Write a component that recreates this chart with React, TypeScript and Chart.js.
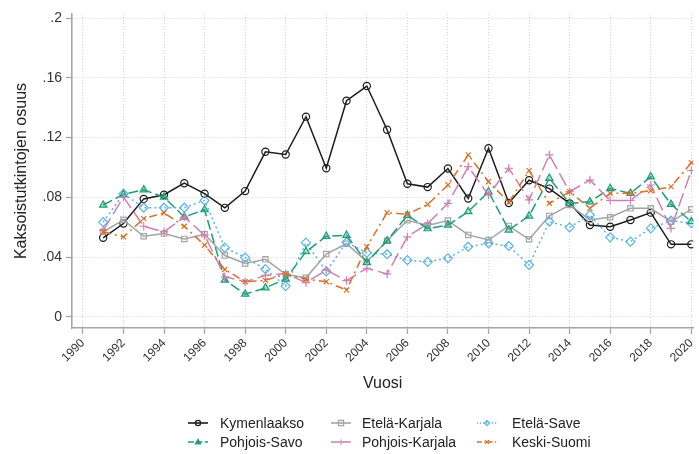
import React, { useEffect, useRef } from 'react';
import { Chart, registerables } from 'chart.js';

Chart.register(...registerables);

const years = [1991, 1992, 1993, 1994, 1995, 1996, 1997, 1998, 1999, 2000, 2001, 2002, 2003, 2004, 2005, 2006, 2007, 2008, 2009, 2010, 2011, 2012, 2013, 2014, 2015, 2016, 2017, 2018, 2019, 2020];

const kymenlaakso = [0.053, 0.0625, 0.079, 0.0818, 0.0895, 0.0825, 0.073, 0.0842, 0.1105, 0.1087, 0.134, 0.0995, 0.1447, 0.1545, 0.1253, 0.0891, 0.0869, 0.0993, 0.0793, 0.1129, 0.0763, 0.0915, 0.0859, 0.076, 0.0615, 0.0604, 0.0649, 0.0698, 0.0486, 0.0486];
const etelaKarjala = [0.057, 0.065, 0.054, 0.0558, 0.0522, 0.0553, 0.0411, 0.0358, 0.0386, 0.0285, 0.0262, 0.0421, 0.049, 0.037, 0.051, 0.0647, 0.0613, 0.0645, 0.0549, 0.0515, 0.0609, 0.052, 0.0676, 0.0749, 0.065, 0.0667, 0.0727, 0.0727, 0.0638, 0.072];
const etelaSave = [0.0635, 0.0824, 0.0731, 0.0731, 0.0731, 0.078, 0.0464, 0.0398, 0.032, 0.0207, 0.0497, 0.0305, 0.05, 0.043, 0.042, 0.038, 0.0369, 0.0393, 0.047, 0.0493, 0.0475, 0.0348, 0.0638, 0.06, 0.0682, 0.0533, 0.0504, 0.0593, 0.0644, 0.0627];
const pohjoisSavo = [0.0749, 0.082, 0.0851, 0.0802, 0.0669, 0.0718, 0.0247, 0.0153, 0.0195, 0.0254, 0.0437, 0.054, 0.0547, 0.0365, 0.051, 0.068, 0.0591, 0.0615, 0.0705, 0.0838, 0.0582, 0.0676, 0.0928, 0.076, 0.0771, 0.086, 0.0827, 0.0938, 0.0754, 0.0638];
const pohjoisKarjala = [0.058, 0.0802, 0.0607, 0.0569, 0.0669, 0.0547, 0.0269, 0.0236, 0.0278, 0.0291, 0.023, 0.0314, 0.0243, 0.0326, 0.0288, 0.0536, 0.0625, 0.076, 0.1006, 0.0816, 0.0995, 0.0783, 0.1084, 0.0838, 0.0916, 0.078, 0.078, 0.0883, 0.0593, 0.098];
const keskiSuomi = [0.057, 0.0536, 0.0658, 0.0696, 0.0607, 0.048, 0.0318, 0.0236, 0.0245, 0.0288, 0.0252, 0.0236, 0.018, 0.047, 0.0698, 0.0687, 0.0753, 0.0883, 0.1084, 0.0905, 0.0767, 0.0979, 0.076, 0.0838, 0.0727, 0.0827, 0.0827, 0.0845, 0.0872, 0.1032];

const xTickValues = [1990, 1992, 1994, 1996, 1998, 2000, 2002, 2004, 2006, 2008, 2010, 2012, 2014, 2016, 2018, 2020];
const yTickValues = [0, 0.04, 0.08, 0.12, 0.16, 0.2];
const yTickLabels = ['0', '.04', '.08', '.12', '.16', '.2'];

const FONT = '"Liberation Sans", Arial, sans-serif';

type Series = {
  label: string;
  values: number[];
  color: string;
  fill: string;
  dash: number[];
  pointStyle: string;
  radius: number;
  order: number;
};

const series: Series[] = [
  { label: 'Kymenlaakso', values: kymenlaakso, color: '#1c1c1c', fill: 'rgba(255,255,255,0)', dash: [], pointStyle: 'circle', radius: 3.6, order: 6 },
  { label: 'Etelä-Karjala', values: etelaKarjala, color: '#a4a4a4', fill: 'rgba(255,255,255,0)', dash: [], pointStyle: 'rect', radius: 3.8, order: 5 },
  { label: 'Etelä-Save', values: etelaSave, color: '#5ab4e6', fill: 'rgba(255,255,255,0)', dash: [2, 3], pointStyle: 'rectRot', radius: 4.5, order: 4 },
  { label: 'Pohjois-Savo', values: pohjoisSavo, color: '#1e9e78', fill: 'rgba(30,158,120,0.35)', dash: [10, 4], pointStyle: 'triangle', radius: 4.2, order: 3 },
  { label: 'Pohjois-Karjala', values: pohjoisKarjala, color: '#d07fb4', fill: 'rgba(255,255,255,0)', dash: [14, 5], pointStyle: 'cross', radius: 4.2, order: 2 },
  { label: 'Keski-Suomi', values: keskiSuomi, color: '#da6f25', fill: 'rgba(255,255,255,0)', dash: [8, 4, 2, 4], pointStyle: 'crossRot', radius: 3.6, order: 1 },
];

const legendCols = [
  { sx: 188, tx: 220 },
  { sx: 331, tx: 362 },
  { sx: 477, tx: 512 },
];
const legendRows = [423, 442];

function drawMarker(ctx: CanvasRenderingContext2D, style: string, x: number, y: number, r: number, color: string, fill: string) {
  ctx.save();
  ctx.setLineDash([]);
  ctx.strokeStyle = color;
  ctx.fillStyle = fill;
  ctx.lineWidth = 1.2;
  ctx.beginPath();
  if (style === 'circle') {
    ctx.arc(x, y, r, 0, Math.PI * 2);
    ctx.fill();
    ctx.stroke();
  } else if (style === 'rect') {
    ctx.rect(x - r, y - r, 2 * r, 2 * r);
    ctx.fill();
    ctx.stroke();
  } else if (style === 'rectRot') {
    ctx.moveTo(x, y - r);
    ctx.lineTo(x + r, y);
    ctx.lineTo(x, y + r);
    ctx.lineTo(x - r, y);
    ctx.closePath();
    ctx.fill();
    ctx.stroke();
  } else if (style === 'triangle') {
    ctx.moveTo(x, y - r);
    ctx.lineTo(x + r, y + r * 0.7);
    ctx.lineTo(x - r, y + r * 0.7);
    ctx.closePath();
    ctx.fillStyle = color;
    ctx.fill();
    ctx.stroke();
  } else if (style === 'cross') {
    ctx.moveTo(x - r, y);
    ctx.lineTo(x + r, y);
    ctx.moveTo(x, y - r);
    ctx.lineTo(x, y + r);
    ctx.stroke();
  } else if (style === 'crossRot') {
    const d = r * 0.75;
    ctx.moveTo(x - d, y - d);
    ctx.lineTo(x + d, y + d);
    ctx.moveTo(x + d, y - d);
    ctx.lineTo(x - d, y + d);
    ctx.stroke();
  }
  ctx.restore();
}

const legendPlugin = {
  id: 'gridLegend',
  afterDraw(chart: any) {
    const ctx: CanvasRenderingContext2D = chart.ctx;
    ctx.save();
    series.forEach((s, i) => {
      const row = Math.floor(i / 3);
      const col = i % 3;
      const y = legendRows[row];
      const { sx, tx } = legendCols[col];
      ctx.strokeStyle = s.color;
      ctx.lineWidth = 1.6;
      ctx.setLineDash(s.dash.length ? s.dash.map((d) => Math.max(1, d * 0.6)) : []);
      ctx.beginPath();
      ctx.moveTo(sx, y);
      ctx.lineTo(sx + 20, y);
      ctx.stroke();
      drawMarker(ctx, s.pointStyle, sx + 10, y, 2.6, s.color, s.fill);
      ctx.setLineDash([]);
      ctx.fillStyle = '#222222';
      ctx.font = `14px ${FONT}`;
      ctx.textAlign = 'left';
      ctx.textBaseline = 'middle';
      ctx.fillText(s.label, tx, y + 1);
    });
    ctx.restore();
  },
};

export default function App() {
  const canvasRef = useRef<HTMLCanvasElement | null>(null);

  useEffect(() => {
    document.body.style.margin = '0';
    const canvas = canvasRef.current;
    if (!canvas) return;
    const chart = new Chart(canvas, {
      type: 'line',
      data: {
        datasets: series.map((s) => ({
          label: s.label,
          data: years.map((yr, i) => ({ x: yr, y: s.values[i] })),
          borderColor: s.color,
          backgroundColor: s.fill,
          borderWidth: 1.5,
          borderDash: s.dash,
          pointStyle: s.pointStyle as any,
          pointRadius: s.radius,
          pointBorderWidth: 1.2,
          pointBorderColor: s.color,
          pointBackgroundColor: s.fill,
          tension: 0,
          fill: false,
          order: s.order,
        })),
      },
      options: {
        animation: false,
        responsive: false,
        maintainAspectRatio: false,
        events: [],
        layout: { padding: { top: 14, right: 0, bottom: 61, left: 0 } },
        plugins: {
          legend: { display: false },
          tooltip: { enabled: false },
          title: { display: false },
        },
        scales: {
          x: {
            type: 'linear',
            min: 1989.463,
            max: 2020.098,
            afterBuildTicks: (scale: any) => {
              scale.ticks = xTickValues.map((v) => ({ value: v }));
            },
            afterFit: (scale: any) => {
              scale.height = 65;
              scale.paddingLeft = 0;
              scale.paddingRight = 0;
            },
            ticks: {
              autoSkip: false,
              minRotation: 45,
              maxRotation: 45,
              padding: 2,
              color: '#333333',
              font: { family: FONT, size: 12 },
              callback: (v: any) => String(v),
            },
            grid: {
              color: '#d4d4d4',
              lineWidth: 1,
              tickLength: 6,
              tickColor: '#a6a6a6',
              tickWidth: 1.3,
              tickBorderDash: [],
            },
            border: { display: true, color: '#a6a6a6', width: 1.6, dash: [1, 2] },
            title: {
              display: true,
              text: 'Vuosi',
              color: '#222222',
              font: { family: FONT, size: 16 },
              padding: { top: 0, bottom: 0 },
            },
          },
          y: {
            type: 'linear',
            min: -0.00736,
            max: 0.20268,
            afterBuildTicks: (scale: any) => {
              scale.ticks = yTickValues.map((v) => ({ value: v }));
            },
            afterFit: (scale: any) => {
              scale.width = 72;
              scale.paddingTop = 0;
              scale.paddingBottom = 0;
            },
            ticks: {
              padding: 4,
              color: '#333333',
              font: { family: FONT, size: 14 },
              callback: (v: any) => {
                const idx = yTickValues.findIndex((t) => Math.abs(t - v) < 1e-9);
                return idx >= 0 ? yTickLabels[idx] : '';
              },
            },
            grid: {
              color: '#d4d4d4',
              lineWidth: 1,
              tickLength: 6,
              tickColor: '#a6a6a6',
              tickWidth: 1.3,
              tickBorderDash: [],
            },
            border: { display: true, color: '#a6a6a6', width: 1.6, dash: [1, 2] },
            title: {
              display: true,
              text: 'Kaksoistutkintojen osuus',
              color: '#222222',
              font: { family: FONT, size: 16 },
              padding: { top: 12, bottom: 0 },
            },
          },
        },
      },
      plugins: [legendPlugin],
    } as any);
    return () => chart.destroy();
  }, []);

  return (
    <div style={{ width: 699, height: 454, background: '#ffffff' }}>
      <canvas ref={canvasRef} width={699} height={454} style={{ display: 'block' }} />
    </div>
  );
}
